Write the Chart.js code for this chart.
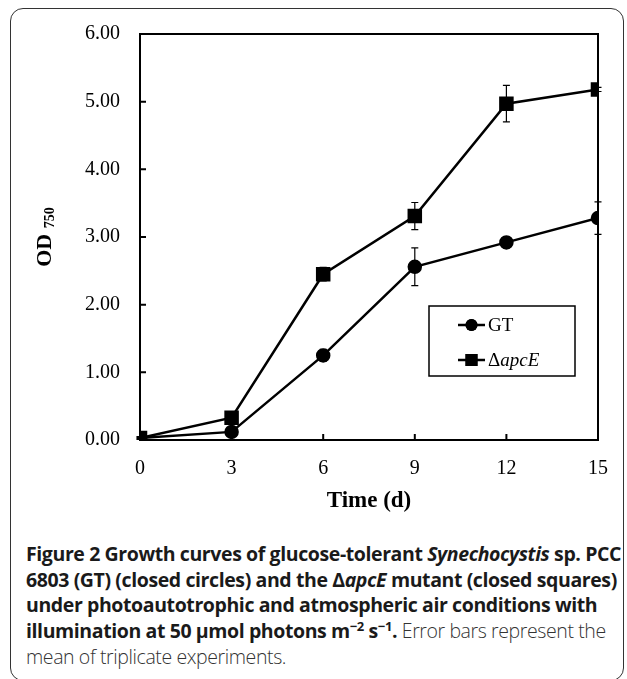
<!DOCTYPE html>
<html>
<head>
<meta charset="utf-8">
<script src="https://cdn.jsdelivr.net/npm/chart.js@4"></script>
<style>
  html, body { margin: 0; padding: 0; background: #fff; width: 627px; height: 679px; overflow: hidden; }
  #frame { position: absolute; left: 10px; top: 8px; width: 614px; height: 673px; border: 1.5px solid #333; border-radius: 13px; box-sizing: border-box; }
  #wrap { position: absolute; left: 0; top: 0; width: 627px; height: 530px; }
  #caption { position: absolute; left: 26px; top: 541px; width: 600px; font-family: "Open Sans", sans-serif; font-size: 19.5px; line-height: 25.7px; color: #1a1a1a; white-space: nowrap; letter-spacing: -0.4px; }
  #caption b { font-weight: 700; }
  #caption .light { font-weight: 300; color: #333; }
  #caption sup { font-size: 13px; line-height: 0; }
</style>
</head>
<body>
<div id="frame"></div>
<div id="wrap"><canvas id="chart-1"></canvas></div>
<div id="caption">
  <b>Figure 2 Growth curves of glucose-tolerant <i>Synechocystis</i> sp. PCC</b><br>
  <b>6803 (GT) (closed circles) and the Δ<i>apcE</i> mutant (closed squares)</b><br>
  <b>under photoautotrophic and atmospheric air conditions with</b><br>
  <b>illumination at 50 μmol photons m<sup>−2</sup> s<sup>−1</sup>.</b><span class="light"> Error bars represent the</span><br>
  <span class="light">mean of triplicate experiments.</span>
</div>
<script>
const days = [0, 3, 6, 9, 12, 15];
const gtValues = [0.03, 0.12, 1.25, 2.56, 2.92, 3.28];
const gtErrors = [0.02, 0.03, 0.09, 0.28, 0.08, 0.24];
const apceValues = [0.03, 0.33, 2.45, 3.31, 4.97, 5.18];
const apceErrors = [0.01, 0.03, 0.1, 0.2, 0.27, 0.03];
const yTickValues = [0, 1, 2, 3, 4, 5, 6];

const serif = "'Liberation Serif', 'Times New Roman', serif";

// inner box, inner tick marks, error bars
const framePlugin = {
  id: "frameBox",
  beforeDatasetsDraw(chart) {
    const { ctx, chartArea: ca, scales } = chart;
    ctx.save();
    ctx.strokeStyle = "#000";
    ctx.lineWidth = 1.2;
    chart.data.datasets.forEach((ds) => {
      ds.errors.forEach((e, i) => {
        const x = scales.x.getPixelForValue(ds.data[i].x);
        const y1 = scales.y.getPixelForValue(ds.data[i].y + e);
        const y2 = scales.y.getPixelForValue(ds.data[i].y - e);
        ctx.beginPath();
        ctx.moveTo(x, y1); ctx.lineTo(x, y2);
        ctx.moveTo(x - 3.5, y1); ctx.lineTo(x + 3.5, y1);
        ctx.moveTo(x - 3.5, y2); ctx.lineTo(x + 3.5, y2);
        ctx.stroke();
      });
    });
    ctx.lineWidth = 2;
    ctx.strokeRect(ca.left, ca.top, ca.right - ca.left, ca.bottom - ca.top);
    ctx.beginPath();
    yTickValues.forEach((v) => {
      const y = scales.y.getPixelForValue(v);
      ctx.moveTo(ca.left, y); ctx.lineTo(ca.left + 6, y);
    });
    days.forEach((d) => {
      const x = scales.x.getPixelForValue(d);
      ctx.moveTo(x, ca.bottom); ctx.lineTo(x, ca.bottom - 6);
    });
    ctx.stroke();
    ctx.restore();
  },
  afterDraw(chart) {
    const { ctx, chartArea: ca } = chart;
    ctx.save();
    // y axis title with subscript
    ctx.translate(45, (ca.top + ca.bottom) / 2);
    ctx.rotate(-Math.PI / 2);
    ctx.fillStyle = "#000";
    ctx.textBaseline = "middle";
    ctx.font = "bold 22px " + serif;
    const w1 = ctx.measureText("OD ").width;
    ctx.font = "bold 14px " + serif;
    const w2 = ctx.measureText("750").width;
    let x0 = -(w1 + w2) / 2;
    ctx.font = "bold 22px " + serif;
    ctx.textAlign = "left";
    ctx.fillText("OD ", x0, 0);
    ctx.font = "bold 14px " + serif;
    ctx.fillText("750", x0 + w1, 5);
    ctx.restore();

    // legend box
    ctx.save();
    const bx = ca.right - 169, by = ca.top + 272, bw = 146, bh = 70;
    ctx.lineWidth = 1.5;
    ctx.strokeStyle = "#000";
    ctx.strokeRect(bx, by, bw, bh);
    chart.data.datasets.forEach((ds, i) => {
      const ly = by + 19 + i * 35;
      ctx.lineWidth = 2.5;
      ctx.beginPath();
      ctx.moveTo(bx + 29, ly); ctx.lineTo(bx + 56, ly);
      ctx.stroke();
      Chart.helpers.drawPoint(ctx, { pointStyle: ds.pointStyle, radius: ds.pointRadius, borderWidth: 0 }, bx + 42.5, ly);
      ctx.fillStyle = "#000";
      ctx.fill();
      ctx.textBaseline = "middle";
      ctx.textAlign = "left";
      let tx = bx + 59;
      ds.legendParts.forEach((p) => {
        ctx.font = (p.italic ? "italic " : "") + "19px " + serif;
        ctx.fillText(p.text, tx, ly + 1);
        tx += ctx.measureText(p.text).width;
      });
    });
    ctx.restore();
  }
};

const ctx1 = document.getElementById("chart-1").getContext("2d");
const myChart1 = new Chart(ctx1, {
  type: "line",
  data: {
    datasets: [
      {
        label: "GT",
        legendParts: [{ text: "GT" }],
        data: days.map((d, i) => ({ x: d, y: gtValues[i] })),
        errors: gtErrors,
        borderColor: "#000",
        backgroundColor: "#000",
        borderWidth: 2.5,
        pointStyle: "circle",
        pointRadius: 6,
        pointHoverRadius: 6,
      },
      {
        label: "ΔapcE",
        legendParts: [{ text: "Δ" }, { text: "apcE", italic: true }],
        data: days.map((d, i) => ({ x: d, y: apceValues[i] })),
        errors: apceErrors,
        borderColor: "#000",
        backgroundColor: "#000",
        borderWidth: 2.5,
        pointStyle: "rect",
        pointRadius: 8.5,
        pointHoverRadius: 8.5,
      },
    ],
  },
  options: {
    responsive: true,
    maintainAspectRatio: false,
    animation: false,
    events: [],
    layout: { padding: { top: 34, right: 29, left: 0, bottom: 11 } },
    plugins: { legend: { display: false }, tooltip: { enabled: false } },
    scales: {
      x: {
        type: "linear",
        min: 0,
        max: 15,
        ticks: { stepSize: 3, color: "#000", font: { family: serif, size: 20 }, padding: 17 },
        grid: { drawOnChartArea: false, drawTicks: false },
        border: { color: "#000", width: 2 },
        title: { display: true, text: "Time (d)", color: "#000", font: { family: serif, size: 23, weight: "bold" }, padding: { top: 4 } },
        afterFit(scale) { scale.height = 79; },
      },
      y: {
        min: 0,
        max: 6,
        ticks: {
          stepSize: 1,
          color: "#000",
          font: { family: serif, size: 20 },
          padding: 20,
          callback: function(value) { return value.toFixed(2); },
        },
        grid: { drawOnChartArea: false, drawTicks: false },
        border: { color: "#000", width: 2 },
        afterFit(scale) { scale.width = 140; },
      },
    },
  },
  plugins: [framePlugin],
});
</script>
</body>
</html>
